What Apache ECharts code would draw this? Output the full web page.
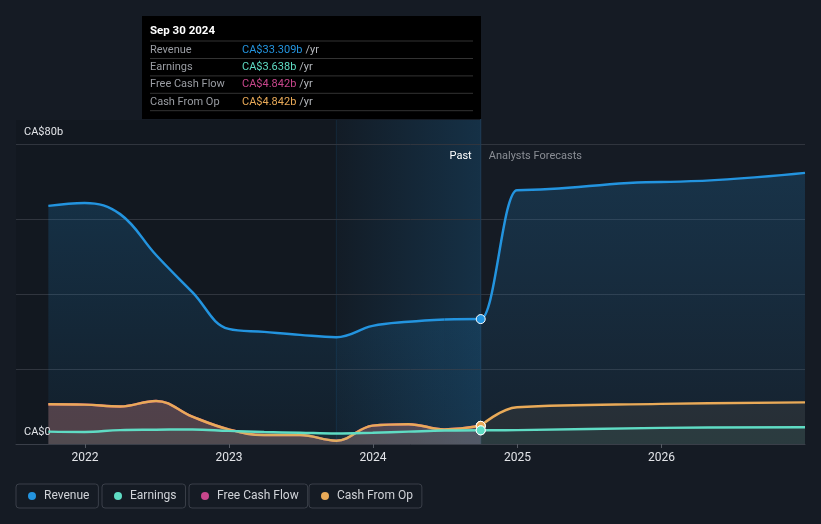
<!DOCTYPE html>
<html>
<head>
<meta charset="utf-8">
<script src="https://cdn.jsdelivr.net/npm/echarts@6/dist/echarts.min.js"></script>
<style>
  html, body { margin: 0; padding: 0; background: #151b24; }
  #main { width: 821px; height: 524px; }
</style>
</head>
<body>
<div id="main"></div>
<script>
  // quarterly reported values and analyst forecasts (CA$ billions)
  const pastDates = ['2021-09-30', '2021-12-31', '2022-03-31', '2022-06-30', '2022-09-30', '2022-12-31',
    '2023-03-31', '2023-06-30', '2023-09-30', '2023-12-31', '2024-03-31', '2024-06-30', '2024-09-30'];
  const forecastDates = ['2024-12-31', '2025-12-31', '2026-12-31'];

  const revenuePast = [63.5, 64.3, 61.3, 50.4, 40.5, 30.7, 29.9, 29.1, 28.5, 31.5, 32.6, 33.2, 33.309];
  const revenueForecast = [67.7, 69.9, 72.3];
  const earningsPast = [3.3, 3.2, 3.7, 3.8, 3.9, 3.5, 3.2, 3.0, 2.8, 3.0, 3.3, 3.6, 3.638];
  const earningsForecast = [3.7, 4.3, 4.5];
  const fcfPast = [10.6, 10.5, 10.0, 11.5, 7.3, 3.9, 2.4, 2.4, 0.9, 4.9, 5.3, 3.9, 4.842];
  const cfoPast = [10.6, 10.5, 10.0, 11.5, 7.3, 3.9, 2.4, 2.4, 0.9, 4.9, 5.3, 3.9, 4.842];
  const cfoForecast = [9.8, 10.7, 11.1];

  const yearTicks = ['2022-01-01', '2023-01-01', '2024-01-01', '2025-01-01', '2026-01-01'];
  const yTickLabels = [0, 80];

  const tipTitle = 'Sep 30 2024';
  const tipRows = [
    ['Revenue', 'CA$33.309b', '#2394df'],
    ['Earnings', 'CA$3.638b', '#5fdcc4'],
    ['Free Cash Flow', 'CA$4.842b', '#c8468c'],
    ['Cash From Op', 'CA$4.842b', '#e9aa58']
  ];

  const colors = { Revenue: '#2394df', Earnings: '#5fdcc4', 'Free Cash Flow': '#c8468c', 'Cash From Op': '#e9aa58' };
  const pastEnd = pastDates[pastDates.length - 1];
  const lastYearStart = '2023-09-30';

  function ts(d) { return new Date(d + 'T00:00:00Z').getTime(); }

  function point(d, v, color) {
    if (d === pastEnd) {
      return { value: [ts(d), v], symbol: 'circle', symbolSize: 9,
        itemStyle: { color: color, borderColor: '#ffffff', borderWidth: 1 } };
    }
    return [ts(d), v];
  }
  // past points from index `from` to index `to` (inclusive)
  function pastData(vals, color, from, to) {
    const out = [];
    for (let i = from; i <= to; i++) out.push(point(pastDates[i], vals[i], color));
    return out;
  }
  // forecast points, continuing from reported values starting at index `from`
  function forecastData(pastVals, vals, color, from) {
    return pastData(pastVals, color, from, pastDates.length - 1)
      .concat(forecastDates.map((d, i) => [ts(d), vals[i]]));
  }

  function lineSeries(name, data, area, z, monotone) {
    return {
      name: name,
      type: 'line',
      data: data,
      smooth: 0.4,
      smoothMonotone: monotone ? 'x' : undefined,
      symbol: 'none',
      showAllSymbol: true,
      z: z,
      lineStyle: { color: colors[name], width: 2.5 },
      itemStyle: { color: colors[name] },
      areaStyle: area,
      emphasis: { disabled: true }
    };
  }

  const chart = echarts.init(document.getElementById('main'));

  const legendBox = (name, left) => ({
    data: [name],
    left: left,
    top: 484,
    icon: 'circle',
    itemWidth: 8,
    itemHeight: 8,
    selectedMode: false,
    padding: [6, 9, 6, 12],
    borderColor: '#3a3f49',
    borderWidth: 1,
    borderRadius: 3,
    textStyle: { color: '#d0d3d8', fontSize: 12, fontFamily: 'Roboto', padding: [0, 0, 0, 3] }
  });

  const revenueArea = {
    color: new echarts.graphic.LinearGradient(0, 0, 0, 1, [
      { offset: 0, color: 'rgba(35,148,223,0.28)' },
      { offset: 1, color: 'rgba(35,148,223,0.08)' }
    ])
  };
  const fcfArea = { color: 'rgba(210,120,140,0.36)' };
  const cfoArea = { color: 'rgba(220,190,130,0.12)' };
  const earnArea = { color: 'rgba(95,220,196,0.10)' };
  const n = pastDates.length;

  chart.setOption({
    backgroundColor: '#151b24',
    animation: false,
    textStyle: { fontFamily: 'Roboto' },
    grid: { left: 16, right: 16, top: 144, bottom: 80 },
    legend: [
      legendBox('Revenue', 16),
      legendBox('Earnings', 102),
      legendBox('Free Cash Flow', 189),
      legendBox('Cash From Op', 309)
    ],
    xAxis: {
      type: 'value',
      min: ts('2021-07-10'),
      max: ts('2026-12-31'),
      axisLine: { lineStyle: { color: '#3a3f49' } },
      axisTick: { show: true, length: 4, lineStyle: { color: '#555a63' }, customValues: yearTicks.map(ts) },
      axisLabel: {
        customValues: yearTicks.map(ts),
        formatter: v => String(new Date(v).getUTCFullYear()),
        color: '#e2e4e8', fontSize: 12, margin: 8
      },
      splitLine: { show: false }
    },
    yAxis: {
      type: 'value',
      min: 0,
      max: 80,
      interval: 20,
      axisLine: { show: false },
      axisTick: { show: false },
      splitLine: { lineStyle: { color: '#30353e', width: 1 } },
      axisLabel: {
        inside: true,
        customValues: yTickLabels,
        formatter: v => v === 0 ? 'CA$0' : 'CA$' + v + 'b',
        color: '#e2e4e8', fontSize: 11, margin: 8,
        verticalAlign: 'bottom', padding: [0, 0, 6, 0]
      }
    },
    series: [
      lineSeries('Revenue', pastData(revenuePast, colors.Revenue, 0, n - 2), revenueArea, 2, false),
      lineSeries('Revenue', forecastData(revenuePast, revenueForecast, colors.Revenue, n - 2), revenueArea, 2, true),
      lineSeries('Free Cash Flow', pastData(fcfPast, colors['Free Cash Flow'], 0, n - 1), fcfArea, 3, false),
      lineSeries('Cash From Op', pastData(cfoPast, colors['Cash From Op'], 0, n - 1), cfoArea, 4, false),
      lineSeries('Cash From Op', forecastData(cfoPast, cfoForecast, colors['Cash From Op'], n - 1), cfoArea, 4, false),
      lineSeries('Earnings', pastData(earningsPast, colors.Earnings, 0, n - 1), earnArea, 5, false),
      lineSeries('Earnings', forecastData(earningsPast, earningsForecast, colors.Earnings, n - 1), earnArea, 5, false)
    ]
  });

  // overlays placed from the axis scale
  const xPast = chart.convertToPixel({ gridIndex: 0 }, [ts(pastEnd), 0])[0];
  const xYear = chart.convertToPixel({ gridIndex: 0 }, [ts(lastYearStart), 0])[0];
  const xLeft = 16, yTop = 120, yBase = 444;

  const tipChildren = [
    { type: 'rect', shape: { x: 142, y: 16, width: 339, height: 103 }, style: { fill: '#000000' } },
    { type: 'text', x: 150, y: 31, style: { text: tipTitle, fill: '#ffffff', fontSize: 11.5, fontWeight: 'bold', fontFamily: 'Roboto', verticalAlign: 'middle' } },
    { type: 'line', shape: { x1: 150, y1: 41, x2: 473, y2: 41 }, style: { stroke: '#333333', lineWidth: 1 } }
  ];
  tipRows.forEach((r, i) => {
    const yc = 49.8 + i * 17.4;
    tipChildren.push({ type: 'text', x: 150, y: yc, style: { text: r[0], fill: '#9a9da3', fontSize: 11, fontFamily: 'Roboto', verticalAlign: 'middle' } });
    tipChildren.push({ type: 'text', x: 242, y: yc, style: {
      text: '{v|' + r[1] + '} {u|/yr}', verticalAlign: 'middle', fontFamily: 'Roboto',
      rich: { v: { fill: r[2], fontSize: 11, fontFamily: 'Roboto' }, u: { fill: '#b5b8bd', fontSize: 11, fontFamily: 'Roboto' } }
    } });
    tipChildren.push({ type: 'line', shape: { x1: 150, y1: yc + 8.7, x2: 473, y2: yc + 8.7 }, style: { stroke: '#333333', lineWidth: 1 } });
  });

  chart.setOption({
    graphic: [
      { type: 'rect', z: -1, shape: { x: xLeft, y: yTop, width: xPast - xLeft, height: yBase - yTop }, style: { fill: 'rgba(0,0,0,0.10)' } },
      { type: 'rect', z: -1, shape: { x: xYear, y: yTop, width: xPast - xYear, height: yBase - yTop },
        style: { fill: new echarts.graphic.LinearGradient(0, 0, 1, 0, [
          { offset: 0, color: 'rgba(35,148,223,0.03)' },
          { offset: 1, color: 'rgba(35,148,223,0.20)' }
        ]) } },
      { type: 'line', z: -1, shape: { x1: xYear, y1: yTop, x2: xYear, y2: yBase }, style: { stroke: 'rgba(35,148,223,0.12)', lineWidth: 1 } },
      { type: 'line', z: 1, shape: { x1: xPast, y1: 119, x2: xPast, y2: yBase }, style: { stroke: '#1f3d58', lineWidth: 1 } },
      { type: 'text', z: 10, x: xPast - 9, y: 156, style: { text: 'Past', fill: '#ffffff', fontSize: 11, fontFamily: 'Roboto', align: 'right', verticalAlign: 'middle' } },
      { type: 'text', z: 10, x: xPast + 8, y: 156, style: { text: 'Analysts Forecasts', fill: '#8a8e95', fontSize: 11, fontFamily: 'Roboto', align: 'left', verticalAlign: 'middle' } },
      { type: 'group', z: 20, children: tipChildren }
    ]
  });
</script>
</body>
</html>
